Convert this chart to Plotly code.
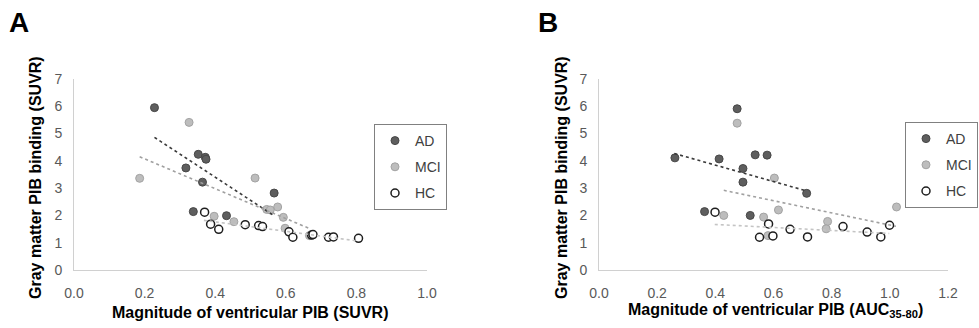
import plotly.graph_objects as go

# ---------------- data ----------------
# Panel A: x = magnitude of ventricular PIB (SUVR)
A_AD_x = [0.228, 0.352, 0.372, 0.374, 0.317, 0.364, 0.567, 0.338, 0.432]
A_AD_y = [5.95, 4.24, 4.13, 4.06, 3.74, 3.22, 2.82, 2.14, 1.99]
A_MCI_x = [0.326, 0.186, 0.513, 0.577, 0.546, 0.556, 0.593, 0.397, 0.453, 0.598, 0.667]
A_MCI_y = [5.41, 3.36, 3.37, 2.31, 2.22, 2.20, 1.93, 1.97, 1.77, 1.53, 1.26]
A_HC_x = [0.370, 0.387, 0.410, 0.485, 0.523, 0.534, 0.609, 0.620, 0.673, 0.677, 0.721, 0.735, 0.806]
A_HC_y = [2.12, 1.68, 1.49, 1.66, 1.63, 1.59, 1.40, 1.20, 1.28, 1.30, 1.20, 1.21, 1.16]
# trend lines (start/end)
A_AD_trend_x = [0.228, 0.562]
A_AD_trend_y = [4.86, 2.03]
A_MCI_trend_x = [0.186, 0.667]
A_MCI_trend_y = [4.15, 1.52]
A_HC_trend_x = [0.368, 0.806]
A_HC_trend_y = [1.82, 1.06]

# Panel B: x = magnitude of ventricular PIB (AUC35-80)
B_AD_x = [0.261, 0.475, 0.413, 0.537, 0.578, 0.495, 0.495, 0.714, 0.363, 0.520]
B_AD_y = [4.11, 5.91, 4.07, 4.22, 4.21, 3.72, 3.22, 2.81, 2.14, 2.00]
B_MCI_x = [0.475, 0.603, 0.617, 0.429, 0.566, 0.581, 0.786, 0.781, 1.023]
B_MCI_y = [5.38, 3.37, 2.20, 2.00, 1.94, 1.26, 1.78, 1.51, 2.31]
B_HC_x = [0.399, 0.583, 0.552, 0.598, 0.657, 0.717, 0.839, 0.922, 0.969, 0.999]
B_HC_y = [2.12, 1.69, 1.20, 1.25, 1.49, 1.21, 1.59, 1.39, 1.21, 1.64]
B_AD_trend_x = [0.259, 0.710]
B_AD_trend_y = [4.27, 2.91]
B_MCI_trend_x = [0.429, 1.021]
B_MCI_trend_y = [2.92, 1.60]
B_HC_trend_x = [0.398, 0.998]
B_HC_trend_y = [1.67, 1.34]

groups = ["AD", "MCI", "HC"]
y_ticks = [0, 1, 2, 3, 4, 5, 6, 7]

# ---------------- styles ----------------
FONT = "Liberation Sans, Arial, sans-serif"
W, H = 979, 328
marker_style = {
    "AD": dict(color="#5e5e5e", size=8, line=dict(color="#474747", width=1)),
    "MCI": dict(color="#bdbdbd", size=8, line=dict(color="#a3a3a3", width=1)),
    "HC": dict(color="#ffffff", size=8, line=dict(color="#1e1e1e", width=1.5)),
}
trend_color = {"AD": "#3a3a3a", "MCI": "#a0a0a0", "HC": "#c4c4c4"}

panels = [
    ("x", "y", "legend",
     {"AD": (A_AD_x, A_AD_y), "MCI": (A_MCI_x, A_MCI_y), "HC": (A_HC_x, A_HC_y)},
     {"AD": (A_AD_trend_x, A_AD_trend_y), "MCI": (A_MCI_trend_x, A_MCI_trend_y),
      "HC": (A_HC_trend_x, A_HC_trend_y)}),
    ("x2", "y2", "legend2",
     {"AD": (B_AD_x, B_AD_y), "MCI": (B_MCI_x, B_MCI_y), "HC": (B_HC_x, B_HC_y)},
     {"AD": (B_AD_trend_x, B_AD_trend_y), "MCI": (B_MCI_trend_x, B_MCI_trend_y),
      "HC": (B_HC_trend_x, B_HC_trend_y)}),
]

fig = go.Figure()
for xa, ya, lg, pts, trends in panels:
    for g in groups:
        fig.add_trace(go.Scatter(
            x=pts[g][0], y=pts[g][1], mode="markers", name=g,
            marker=marker_style[g], xaxis=xa, yaxis=ya, legend=lg,
            legendgroup=lg + g, showlegend=True, hoverinfo="skip"))
    for g in groups:
        fig.add_trace(go.Scatter(
            x=trends[g][0], y=trends[g][1], mode="lines",
            line=dict(color=trend_color[g], width=1.6, dash="dot"),
            xaxis=xa, yaxis=ya, showlegend=False, hoverinfo="skip"))

ydom = [1 - 270 / H, 1 - 79 / H]
axis_common = dict(showline=True, linecolor="#d0d0d0", linewidth=1, showgrid=False,
                   zeroline=False, ticks="", automargin=False,
                   tickfont=dict(size=14, color="#595959", family=FONT))
legend_common = dict(xanchor="left", yanchor="top", bordercolor="#808080", borderwidth=1,
                     bgcolor="white", font=dict(size=14, color="#404040", family=FONT),
                     tracegroupgap=5, itemclick=False, itemdoubleclick=False)
fig.update_layout(
    template="none",
    width=W, height=H, margin=dict(l=0, r=0, t=0, b=0, autoexpand=False),
    paper_bgcolor="white", plot_bgcolor="white",
    font=dict(family=FONT),
    xaxis=dict(domain=[74 / W, 427 / W], range=[0, 1], dtick=0.2, tick0=0,
               tickformat=".1f", anchor="y", ticklabelstandoff=10, **axis_common),
    yaxis=dict(domain=ydom, range=[0, 7], tickvals=y_ticks, anchor="x",
               ticklabelstandoff=8, **axis_common),
    xaxis2=dict(domain=[599 / W, 948 / W], range=[0, 1.2], dtick=0.2, tick0=0,
                tickformat=".1f", anchor="y2", ticklabelstandoff=10, **axis_common),
    yaxis2=dict(domain=ydom, range=[0, 7], tickvals=y_ticks, anchor="x2",
                ticklabelstandoff=8, **axis_common),
    legend=dict(x=374 / W, y=1 - 124 / H, **legend_common),
    legend2=dict(x=905 / W, y=1 - 122 / H, **legend_common),
    showlegend=True,
)


def add_text(text, px, py, size, angle=0):
    fig.add_annotation(text=text, x=px / W, y=1 - py / H, xref="paper", yref="paper",
                       xanchor="center", yanchor="middle", showarrow=False, textangle=angle,
                       font=dict(size=size, family=FONT, color="black"))


add_text("<b>A</b>", 19, 22, 28)
add_text("<b>B</b>", 548, 22, 28)
add_text("<b>Gray matter PIB binding (SUVR)</b>", 35, 178, 16, -90)
add_text("<b>Gray matter PIB binding (SUVR)</b>", 561, 178, 16, -90)
add_text("<b>Magnitude of ventricular PIB (SUVR)</b>", 250, 312, 16)
add_text("<b>Magnitude of ventricular PIB (AUC<sub>35-80</sub>)</b>", 775, 310, 16)

fig.write_html("out.html")
